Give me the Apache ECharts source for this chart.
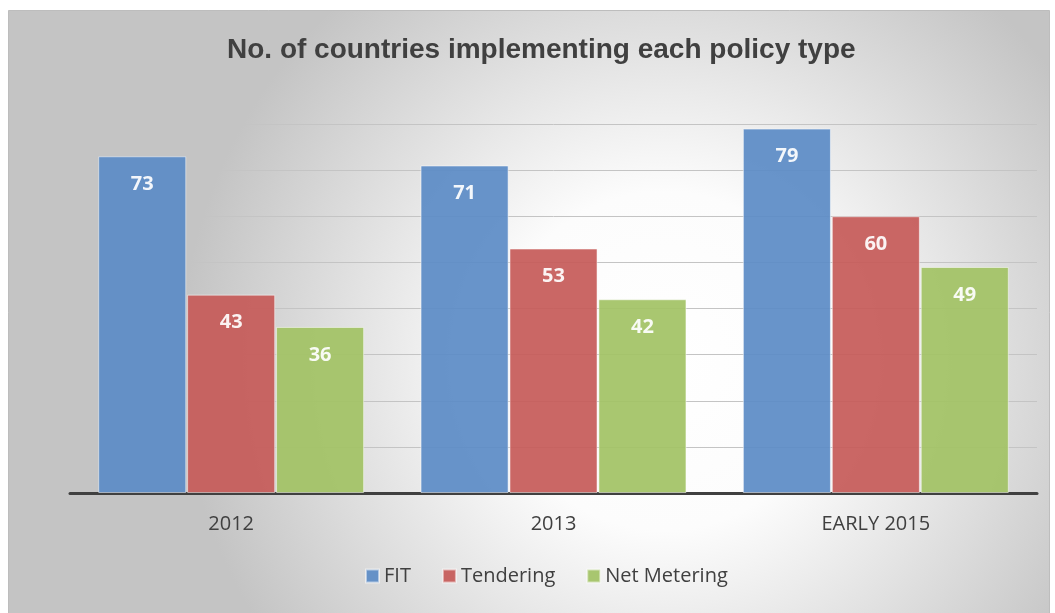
<!DOCTYPE html>
<html>
<head>
<meta charset="utf-8">
<script src="https://cdn.jsdelivr.net/npm/echarts@6/dist/echarts.min.js"></script>
<style>
  html, body { margin: 0; padding: 0; background: #ffffff; }
  #chart { width: 1055px; height: 613px; }
</style>
</head>
<body>
<div id="chart"></div>
<script>
// Policy adoption counts by period
const categories = ['2012', '2013', 'EARLY 2015'];
const fit = [73, 71, 79];
const tendering = [43, 53, 60];
const netMetering = [36, 42, 49];
const seriesNames = ['FIT', 'Tendering', 'Net Metering'];

const chart = echarts.init(document.getElementById('chart'));

const labelStyle = {
  show: true,
  position: 'insideTop',
  distance: 18,
  color: '#ffffff',
  fontFamily: '"Open Sans", sans-serif',
  fontWeight: 'bold',
  fontSize: 20
};

function barSeries(name, data, color) {
  return {
    name: name,
    type: 'bar',
    data: data,
    barGap: '1%',
    barCategoryGap: '17.5%',
    itemStyle: {
      color: color,
      opacity: 0.92,
      borderColor: 'rgba(255,255,255,0.55)',
      borderWidth: 1
    },
    label: labelStyle
  };
}

chart.setOption({
  animation: false,
  graphic: [{
    type: 'rect',
    z: -10,
    silent: true,
    shape: { x: 8.5, y: 10.5, width: 1041, height: 604 },
    style: {
      fill: {
        type: 'radial', x: 0.63, y: 0.58, r: 0.8,
        colorStops: [
          { offset: 0, color: '#ffffff' },
          { offset: 0.35, color: '#fcfcfc' },
          { offset: 1, color: '#c4c4c4' }
        ]
      },
      stroke: '#bdbdbd',
      lineWidth: 1
    }
  }],
  title: {
    text: 'No. of countries implementing each policy type',
    left: 222,
    top: 31,
    textStyle: {
      fontFamily: '"Liberation Sans", Arial, sans-serif',
      fontWeight: 'bold',
      fontSize: 28,
      color: '#404040'
    }
  },
  legend: {
    data: seriesNames,
    bottom: 22,
    left: 360,
    itemWidth: 13,
    itemHeight: 13,
    itemGap: 31,
    icon: 'rect',
    textStyle: {
      fontFamily: '"Open Sans", sans-serif',
      fontSize: 20,
      color: '#404040'
    }
  },
  grid: { left: 70, right: 18, top: 124, bottom: 120, containLabel: false },
  xAxis: {
    type: 'category',
    data: categories,
    axisLine: { lineStyle: { color: '#404040', width: 3 } },
    axisTick: { show: false },
    axisLabel: {
      margin: 21,
      fontFamily: '"Open Sans", sans-serif',
      fontSize: 20,
      color: '#404040'
    }
  },
  yAxis: {
    type: 'value',
    min: 0,
    max: 80,
    interval: 10,
    axisLabel: { show: false },
    axisLine: { show: false },
    axisTick: { show: false },
    splitLine: { lineStyle: { color: '#c4c4c4', width: 1 } }
  },
  series: [
    barSeries(seriesNames[0], fit, '#5b8bc6'),
    barSeries(seriesNames[1], tendering, '#c65a58'),
    barSeries(seriesNames[2], netMetering, '#a2c264')
  ]
});
</script>
</body>
</html>
